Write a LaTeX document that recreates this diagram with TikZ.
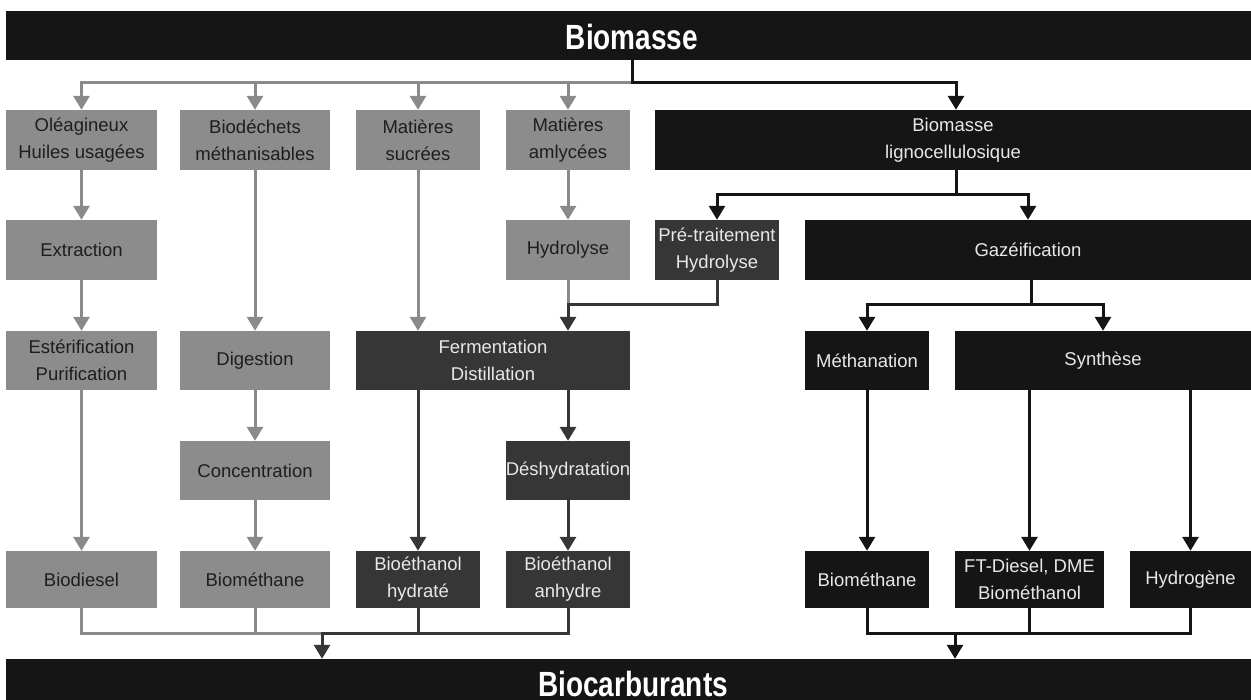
\documentclass[tikz,border=0pt]{standalone}
\usepackage{fontspec}
\setmainfont{Liberation Sans}
\newfontfamily\titlefont{Liberation Sans}[FakeStretch=0.8]
\usetikzlibrary{arrows.meta,backgrounds}
\definecolor{boxgray}{HTML}{8C8C8C}
\definecolor{boxdark}{HTML}{363636}
\definecolor{boxblack}{HTML}{151515}
\definecolor{linegray}{HTML}{8A8A8A}
\definecolor{linedark}{HTML}{363636}
\definecolor{lineblack}{HTML}{151515}
\definecolor{txtdark}{HTML}{1E1E1E}
\definecolor{txtlight}{HTML}{E8E8E8}
\tikzset{
  box/.style={rectangle, inner sep=0pt, align=center, font=\fontsize{18.5}{27}\selectfont},
  gbx/.style={box, fill=boxgray, text=txtdark},
  dbx/.style={box, fill=boxdark, text=txtlight},
  kbx/.style={box, fill=boxblack, text=txtlight},
  sz/.style 2 args={minimum width=#1pt, minimum height=#2pt},
  bar/.style={rectangle, inner sep=0pt, fill=boxblack, minimum width=1245pt},
  ttl/.style={text=white, inner sep=0pt, font=\titlefont\bfseries\fontsize{35}{40}\selectfont},
  gl/.style={line width=3pt, draw=linegray, line cap=rect},
  dl/.style={line width=3pt, draw=linedark, line cap=rect},
  kl/.style={line width=3pt, draw=lineblack, line cap=rect},
  arr/.style={-{Triangle[width=16pt,length=14pt]}, line cap=butt},
}
\begin{document}
\begin{tikzpicture}[x=1pt,y=-1pt]
\useasboundingbox (0,0) rectangle (1251,700);
% bars
\node[bar, minimum height=49pt] (top) at (628.5,35.5) {};
\node[ttl, anchor=base] (toptxt) at (632,50) {Biomasse};
\node[bar, minimum height=41pt] (bot) at (628.5,679.5) {};
\node[ttl, anchor=base] (bottxt) at (633,696) {Biocarburants};
% row 1
\node[gbx, sz={151}{60}] (ole) at (81.5,140) {Oléagineux\\Huiles usagées};
\node[gbx, sz={150}{60}] (bio) at (255,140) {Biodéchets\\méthanisables};
\node[gbx, sz={124}{60}] (suc) at (418,140) {Matières\\sucrées};
\node[gbx, sz={124}{60}] (amy) at (568,140) {Matières\\amlycées};
\node[kbx, sz={596}{60}] (lig) at (953,140) {Biomasse\\lignocellulosique};
% row 2
\node[gbx, sz={151}{60}] (ext) at (81.5,250) {Extraction};
\node[gbx, sz={124}{60}] (hyd) at (568,250) {Hydrolyse};
\node[dbx, sz={124}{60}] (pre) at (717,250) {Pré-traitement\\Hydrolyse};
\node[kbx, sz={446}{60}] (gaz) at (1028,250) {Gazéification};
% row 3
\node[gbx, sz={151}{59}] (est) at (81.5,360.5) {Estérification\\Purification};
\node[gbx, sz={150}{59}] (dig) at (255,360.5) {Digestion};
\node[dbx, sz={274}{59}] (fer) at (493,360.5) {Fermentation\\Distillation};
\node[kbx, sz={124}{59}] (met) at (867,360.5) {Méthanation};
\node[kbx, sz={296}{59}] (syn) at (1103,360.5) {Synthèse};
% row 4
\node[gbx, sz={150}{59}] (con) at (255,470.5) {Concentration};
\node[dbx, sz={124}{59}] (des) at (568,470.5) {Déshydratation};
% row 5
\node[gbx, sz={151}{57}] (bdsl) at (81.5,579.5) {Biodiesel};
\node[gbx, sz={150}{57}] (bmeth) at (255,579.5) {Biométhane};
\node[dbx, sz={124}{57}] (bhyd) at (418,579.5) {Bioéthanol\\hydraté};
\node[dbx, sz={124}{57}] (banh) at (568,579.5) {Bioéthanol\\anhydre};
\node[kbx, sz={124}{57}] (bmeth2) at (867,579.5) {Biométhane};
\node[kbx, sz={149}{57}] (ft) at (1029.5,579.5) {FT-Diesel, DME\\Biométhanol};
\node[kbx, sz={121}{57}] (h2) at (1190.5,579.5) {Hydrogène};
% junctions
\coordinate (t1) at (632,83);
\coordinate (r1) at (956,83);
\coordinate (l1) at (956,195);
\coordinate (m1) at (568,305);
\coordinate (g1) at (1031,305);
\coordinate (bl) at (322,633);
\coordinate (br) at (955,633);
\begin{scope}[on background layer]
% top distribution
\draw[gl] (t1) -- (ole.north |- t1);
\draw[gl,arr] (ole.north |- t1) -- (ole.north);
\draw[gl,arr] (bio.north |- t1) -- (bio.north);
\draw[gl,arr] (suc.north |- t1) -- (suc.north);
\draw[gl,arr] (amy.north |- t1) -- (amy.north);
\draw[kl] (top.south -| t1) -- (t1) -- (r1);
\draw[kl,arr] (r1) -- (r1 |- lig.north);
% gray chains
\draw[gl,arr] (ole) -- (ext);
\draw[gl,arr] (ext) -- (est);
\draw[gl,arr] (est) -- (bdsl);
\draw[gl,arr] (bio) -- (dig);
\draw[gl,arr] (dig) -- (con);
\draw[gl,arr] (con) -- (bmeth);
\draw[gl,arr] (amy) -- (hyd);
\draw[gl,arr] (suc.south) -- (suc.south |- fer.north);
\draw[gl] (hyd.south) -- (m1);
% dark chains
\draw[dl] (pre.south) |- (m1);
\draw[dl,arr] (m1) -- (m1 |- fer.north);
\draw[dl,arr] (des.north |- fer.south) -- (des.north);
\draw[dl,arr] (bhyd.north |- fer.south) -- (bhyd.north);
\draw[dl,arr] (des) -- (banh);
% ligno branch
\draw[kl] (l1 |- lig.south) -- (l1);
\draw[kl] (pre.north |- l1) -- (gaz.north |- l1);
\draw[kl,arr] (pre.north |- l1) -- (pre.north);
\draw[kl,arr] (gaz.north |- l1) -- (gaz.north);
\draw[kl] (g1 |- gaz.south) -- (g1);
\draw[kl] (met.north |- g1) -- (syn.north |- g1);
\draw[kl,arr] (met.north |- g1) -- (met.north);
\draw[kl,arr] (syn.north |- g1) -- (syn.north);
\draw[kl,arr] (met) -- (bmeth2);
\draw[kl,arr] (ft.north |- syn.south) -- (ft.north);
\draw[kl,arr] (h2.north |- syn.south) -- (h2.north);
% bottom collectors
\draw[gl] (bdsl.south) |- (bl);
\draw[gl] (bmeth.south) -- (bmeth.south |- bl);
\draw[dl] (banh.south) |- (bl);
\draw[dl] (bhyd.south) -- (bhyd.south |- bl);
\draw[dl,arr] (bl) -- (bl |- bot.north);
\draw[kl] (bmeth2.south) |- (h2.south |- br) -- (h2.south);
\draw[kl] (ft.south) -- (ft.south |- br);
\draw[kl,arr] (br) -- (br |- bot.north);
\end{scope}
\end{tikzpicture}
\end{document}
